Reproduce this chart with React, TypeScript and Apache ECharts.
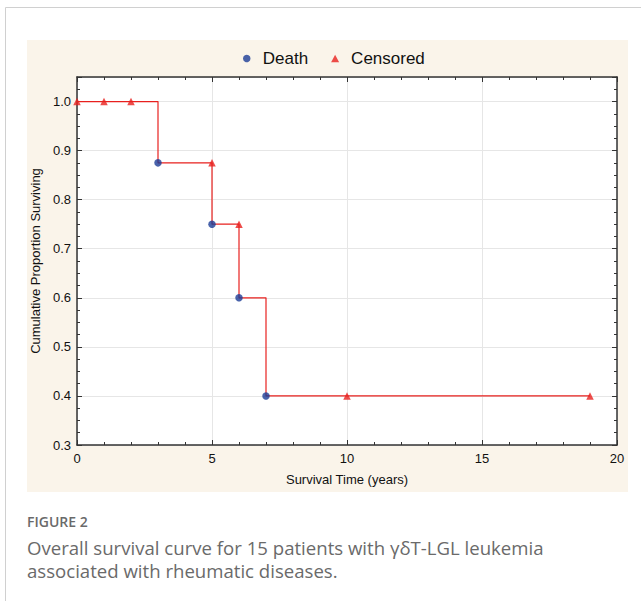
import React, { useEffect, useRef } from "react";
import * as echarts from "echarts";

const curveTimes = [0, 3, 5, 6, 7, 19];
const curveSurvival = [1.0, 0.875, 0.75, 0.6, 0.4, 0.4];
const deathPoints: [number, number][] = [
  [3, 0.875],
  [5, 0.75],
  [6, 0.6],
  [7, 0.4],
];
const censoredPoints: [number, number][] = [
  [0, 1.0],
  [1, 1.0],
  [2, 1.0],
  [5, 0.875],
  [6, 0.75],
  [10, 0.4],
  [19, 0.4],
];
const legendNames = ["Death", "Censored"];
const xTitle = "Survival Time (years)";
const yTitle = "Cumulative Proportion Surviving";
const captionHead = "FIGURE 2";
const captionLines = [
  "Overall survival curve for 15 patients with γδT-LGL leukemia",
  "associated with rheumatic diseases.",
];

export default function App() {
  const ref = useRef<HTMLDivElement>(null);
  useEffect(() => {
    if (!ref.current) return;
    const chart = echarts.init(ref.current, null, { renderer: "svg" });
    const red = "#e8201e";
    const blue = "#1c3c96";
    const axisColor = "#333";
    const font = "'Liberation Sans', Arial, sans-serif";
    const frameAxisX = {
      type: "value" as const,
      min: 0,
      max: 20,
      interval: 5,
    };
    chart.setOption({
      animation: false,
      backgroundColor: "#ffffff",
      graphic: [
        { type: "line", shape: { x1: 5.5, y1: 7.5, x2: 641, y2: 7.5 }, style: { stroke: "#d0d0d0", lineWidth: 1 }, z: -5 },
        { type: "line", shape: { x1: 5.5, y1: 7.5, x2: 5.5, y2: 601 }, style: { stroke: "#d0d0d0", lineWidth: 1 }, z: -5 },
        { type: "rect", shape: { x: 27, y: 40, width: 601, height: 452 }, style: { fill: "#faf4ea" }, z: -10 },
        { type: "rect", shape: { x: 77, y: 77, width: 540, height: 368 }, style: { fill: "#ffffff" }, z: -9 },
        {
          type: "text",
          x: 27,
          y: 521,
          style: { text: captionHead, font: "600 14px 'Open Sans', sans-serif", fill: "#6a6a6a", verticalAlign: "middle" },
        },
        {
          type: "text",
          x: 27,
          y: 547,
          style: { text: captionLines[0], font: "18.6px 'Open Sans', sans-serif", fill: "#6a6a6a", verticalAlign: "middle" },
        },
        {
          type: "text",
          x: 27,
          y: 570,
          style: { text: captionLines[1], font: "18.6px 'Open Sans', sans-serif", fill: "#6a6a6a", verticalAlign: "middle" },
        },
      ],
      legend: {
        data: [
          { name: legendNames[0], icon: "circle" },
          { name: legendNames[1], icon: "triangle" },
        ],
        left: 238,
        top: 45,
        itemWidth: 8,
        itemHeight: 7.5,
        itemGap: 23,
        textStyle: { fontFamily: font, fontSize: 17, color: "#111", padding: [0, 0, 0, 7] },
      },
      grid: { left: 77, right: 24, top: 77, bottom: 156 },
      xAxis: [
        {
          ...frameAxisX,
          position: "bottom",
          name: xTitle,
          nameLocation: "middle",
          nameGap: 28,
          nameTextStyle: { fontFamily: font, fontSize: 13, color: "#111" },
          axisLine: { lineStyle: { color: axisColor, width: 1.5 } },
          axisTick: { inside: true, length: 5, lineStyle: { color: axisColor } },
          minorTick: { show: true, splitNumber: 5, length: 3, lineStyle: { color: axisColor } },
          axisLabel: { fontFamily: font, fontSize: 13, color: "#111", margin: 7 },
          splitLine: { show: true, lineStyle: { color: "#e6e6e6", width: 1 } },
        },
        {
          ...frameAxisX,
          position: "top",
          axisLine: { show: true, onZero: false, lineStyle: { color: axisColor, width: 1.5 } },
          axisTick: { inside: true, length: 5, lineStyle: { color: axisColor } },
          minorTick: { show: true, splitNumber: 5, length: 3, lineStyle: { color: axisColor } },
          axisLabel: { show: false },
          splitLine: { show: false },
        },
      ],
      yAxis: [
        {
          type: "value",
          min: 0.3,
          max: 1.05,
          interval: 0.1,
          position: "left",
          name: yTitle,
          nameLocation: "middle",
          nameGap: 30,
          nameTextStyle: { fontFamily: font, fontSize: 13, color: "#111" },
          axisLine: { show: true, lineStyle: { color: axisColor, width: 1.5 } },
          axisTick: { show: true, inside: true, length: 5, lineStyle: { color: axisColor } },
          minorTick: { show: true, splitNumber: 4, length: 3, lineStyle: { color: axisColor } },
          axisLabel: {
            fontFamily: font,
            fontSize: 13,
            color: "#111",
            margin: 6,
            formatter: (v: number) => (v > 1.001 ? "" : v.toFixed(1)),
          },
          splitLine: { show: true, lineStyle: { color: "#e6e6e6", width: 1 } },
        },
        {
          type: "value",
          min: 0.3,
          max: 1.05,
          interval: 0.1,
          position: "right",
          axisLine: { show: true, onZero: false, lineStyle: { color: axisColor, width: 1.5 } },
          axisTick: { show: true, inside: true, length: 5, lineStyle: { color: axisColor } },
          minorTick: { show: true, splitNumber: 4, length: 3, lineStyle: { color: axisColor } },
          axisLabel: { show: false },
          splitLine: { show: false },
        },
      ],
      series: [
        {
          name: "curve",
          type: "line",
          step: "end",
          data: curveTimes.map((t, i) => [t, curveSurvival[i]]),
          showSymbol: false,
          symbol: "none",
          lineStyle: { color: red, width: 1.2 },
          z: 2,
        },
        {
          name: legendNames[0],
          type: "scatter",
          data: deathPoints,
          symbol: "circle",
          symbolSize: 7.5,
          itemStyle: { color: blue },
          z: 3,
        },
        {
          name: legendNames[1],
          type: "scatter",
          data: censoredPoints,
          symbol: "triangle",
          symbolSize: 7.5,
          itemStyle: { color: red },
          z: 3,
        },
      ],
    });
    return () => chart.dispose();
  }, []);
  return (
    <div
      ref={ref}
      style={{ position: "fixed", left: 0, top: 0, width: 641, height: 601 }}
    />
  );
}
